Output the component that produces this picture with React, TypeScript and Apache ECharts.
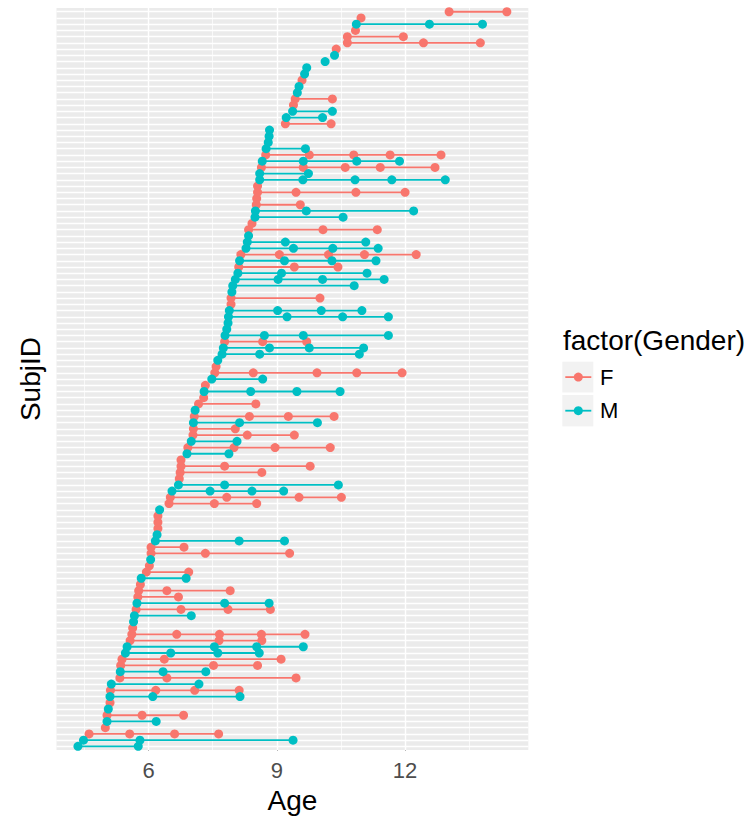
import React, { useEffect, useRef } from "react";
import * as echarts from "echarts";

// Subjects ordered from bottom to top (by age at first visit)
const genders: string[] = [
  "M","M","F","F","M","F","M","F","M","F",
  "M","F","M","F","F","M","M","F","F","F",
  "M","M","F","M","F","F","F","M","F","F",
  "M","F","F","M","M","F","F","F","M","F",
  "F","M","M","F","F","F","F","M","F","M",
  "F","F","M","F","M","F","F","M","F","M",
  "F","F","M","M","M","F","M","M","M","M",
  "M","F","F","M","M","M","M","F","M","F",
  "M","M","M","F","F","M","M","F","F","F",
  "F","M","M","F","M","F","M","M","M","M",
  "F","M","M","F","F","M","M","F","M","M",
  "M","M","F","F","F","F","M","F","F"
];

const visits: number[][] = [
  [4.35, 5.76],
  [4.48, 5.80, 9.38],
  [4.61, 5.56, 6.61, 7.64],
  [4.99],
  [5.03, 6.18],
  [5.03, 5.85, 6.82],
  [5.06],
  [5.10],
  [5.10, 6.10, 8.14],
  [5.11, 6.17, 7.08, 8.12],
  [5.13, 7.18],
  [5.33, 6.43, 9.45],
  [5.34, 6.34, 7.34],
  [5.35, 7.52, 8.55],
  [5.38, 6.37, 9.10],
  [5.46, 6.52, 7.62, 8.59],
  [5.50, 7.54, 8.53, 9.62],
  [5.57, 7.65, 8.65],
  [5.61, 6.66, 7.66, 8.64, 9.66],
  [5.63],
  [5.65],
  [5.67, 7.00],
  [5.71, 6.76, 7.86, 8.85],
  [5.73, 7.78, 8.82],
  [5.75, 6.70],
  [5.77, 6.43, 7.91],
  [5.81],
  [5.83, 6.88],
  [5.95, 6.94],
  [6.02],
  [6.05],
  [6.06, 7.33, 9.30],
  [6.06, 6.83],
  [6.16, 8.12, 9.18],
  [6.20],
  [6.22],
  [6.22],
  [6.22],
  [6.26],
  [6.48, 7.54, 8.53],
  [6.51, 7.83, 9.52, 10.51],
  [6.55, 7.44, 8.42, 9.16],
  [6.70, 7.78, 10.44],
  [6.72],
  [6.74, 8.65],
  [6.76, 7.78, 9.78],
  [6.76],
  [6.90, 7.88],
  [6.92, 8.00, 8.96, 10.25],
  [7.00, 8.07],
  [7.04, 8.31, 9.41],
  [7.05, 8.03],
  [7.05, 8.13, 9.95],
  [7.07, 8.36, 9.27, 10.34],
  [7.09],
  [7.17, 8.51],
  [7.29],
  [7.30, 8.39, 9.47, 10.48],
  [7.33],
  [7.48, 8.67],
  [7.55, 8.45, 9.94, 10.87, 11.93],
  [7.58],
  [7.62],
  [7.72, 8.60, 10.93],
  [7.75, 8.83, 9.76, 11.03],
  [7.78, 8.67, 9.70],
  [7.79, 8.71, 9.62, 11.61],
  [7.83],
  [7.86],
  [7.87, 9.24, 10.54, 11.61],
  [7.89, 9.02, 10.04, 10.99],
  [7.93],
  [7.93, 10.01],
  [7.95],
  [7.97, 10.81],
  [8.03, 9.03, 10.07, 11.51],
  [8.09, 9.11, 11.11],
  [8.11, 9.41, 10.43],
  [8.13, 9.18, 10.29, 11.32],
  [8.16, 9.06, 10.21, 11.05, 12.26],
  [8.28, 9.39, 10.31, 11.37],
  [8.31, 9.20, 11.08],
  [8.34],
  [8.34, 10.08, 11.35],
  [8.42],
  [8.49, 10.55],
  [8.50, 9.69, 12.20],
  [8.52, 9.55],
  [8.53],
  [8.55, 9.45, 10.85, 12.00],
  [8.55],
  [8.60, 9.61, 10.83, 11.69, 12.94],
  [8.60, 9.74],
  [8.64, 9.62, 10.60, 11.42, 12.70],
  [8.66, 9.62, 10.87, 11.87],
  [8.74, 9.76, 10.80, 11.65, 12.84],
  [8.75, 9.67],
  [8.80],
  [8.82],
  [8.83],
  [9.20, 10.27],
  [9.22, 10.07],
  [9.37, 10.30],
  [9.39],
  [9.43, 10.30],
  [9.48],
  [9.52],
  [9.59],
  [9.65],
  [9.70],
  [10.13],
  [10.35],
  [10.39],
  [10.65, 12.43, 13.76],
  [10.65, 11.96],
  [10.84],
  [10.86, 12.57, 13.81],
  [10.97],
  [13.03, 14.38]
];

const subjIds: string[] = visits.map((_, i) => "S" + String(i + 1).padStart(3, "0"));
const xMajorTicks: number[] = [6, 9, 12];
const xMinorTicks: number[] = [4.5, 7.5, 10.5, 13.5];
const genderLevels: string[] = ["F", "M"];
const genderColors: Record<string, string> = { F: "#F8766D", M: "#00BFC4" };
const legendTitle = "factor(Gender)";
const xTitle = "Age";
const yTitle = "SubjID";

export default function App() {
  const ref = useRef<HTMLDivElement>(null);

  useEffect(() => {
    if (!ref.current) return;
    const chart = echarts.init(ref.current, null, { renderer: "svg" });
    const font = "'Liberation Sans', Arial, Helvetica, sans-serif";
    const n = visits.length;
    const all = visits.flat();
    const lo = Math.min(...all);
    const hi = Math.max(...all);
    const pad = (hi - lo) * 0.05;

    const gridLines: any[] = [
      ...xMinorTicks.map((v) => ({ xAxis: v, lineStyle: { width: 0.7, color: "#FFFFFF", type: "solid" } })),
      ...xMajorTicks.map((v) => ({ xAxis: v, lineStyle: { width: 1.4, color: "#FFFFFF", type: "solid" } })),
      ...subjIds.map((_, i) => ({ yAxis: i, lineStyle: { width: 1.3, color: "#FFFFFF", type: "solid" } })),
    ];

    const gridSeries = {
      type: "line",
      name: "grid",
      data: [],
      silent: true,
      z: 1,
      markLine: {
        silent: true,
        z: 1,
        symbol: ["none", "none"],
        label: { show: false },
        emphasis: { disabled: true },
        animation: false,
        data: gridLines,
      },
    };

    const lineSeries = visits.map((ages, i) => ({
      type: "line",
      name: subjIds[i],
      data: ages.map((a) => [a, i]),
      symbol: "none",
      showSymbol: false,
      silent: true,
      z: 5,
      lineStyle: { color: genderColors[genders[i]], width: 1.8 },
      itemStyle: { color: genderColors[genders[i]] },
      emphasis: { disabled: true },
    }));

    const pointSeries = genderLevels.map((g) => ({
      type: "scatter",
      name: g,
      symbol: "circle",
      symbolSize: 9,
      silent: true,
      z: 6,
      itemStyle: { color: genderColors[g], opacity: 1 },
      emphasis: { disabled: true },
      data: visits.flatMap((ages, i) => (genders[i] === g ? ages.map((a) => [a, i]) : [])),
    }));

    const keyX = 562.3;
    const keyW = 31;
    const keys = [
      { g: "F", y: 361.7, h: 30.8, cy: 377.1 },
      { g: "M", y: 395.0, h: 31.4, cy: 410.7 },
    ];
    const legendGraphics: any[] = [
      {
        type: "text",
        left: 563,
        top: 326,
        style: { text: legendTitle, font: `28px ${font}`, fill: "#000000" },
      },
    ];
    keys.forEach((k) => {
      legendGraphics.push({
        type: "rect",
        shape: { x: keyX, y: k.y, width: keyW, height: k.h },
        style: { fill: "#F2F2F2", stroke: "none" },
      });
      legendGraphics.push({
        type: "line",
        shape: { x1: keyX + 3, y1: k.cy, x2: keyX + keyW - 2, y2: k.cy },
        style: { stroke: genderColors[k.g], lineWidth: 1.8 },
      });
      legendGraphics.push({
        type: "circle",
        shape: { cx: keyX + 16, cy: k.cy, r: 4.5 },
        style: { fill: genderColors[k.g] },
      });
      legendGraphics.push({
        type: "text",
        x: 600,
        y: k.cy,
        style: { text: k.g, font: `22px ${font}`, fill: "#000000", verticalAlign: "middle", align: "left" },
      });
    });

    chart.setOption({
      animation: false,
      textStyle: { fontFamily: font },
      grid: {
        left: 56.5,
        right: 754 - 528.3,
        top: 8,
        bottom: 819 - 750.6,
        show: true,
        backgroundColor: "#EBEBEB",
        borderWidth: 0,
      },
      xAxis: {
        type: "value",
        min: lo - pad,
        max: hi + pad,
        name: xTitle,
        nameLocation: "middle",
        nameGap: 35,
        nameTextStyle: { fontSize: 28, color: "#000000", fontFamily: font },
        axisLine: { show: false },
        splitLine: { show: false },
        axisTick: {
          show: true,
          customValues: xMajorTicks,
          length: 4,
          lineStyle: { color: "#333333", width: 1 },
        },
        axisLabel: {
          customValues: xMajorTicks,
          fontSize: 22,
          color: "#4D4D4D",
          margin: 9,
          fontFamily: font,
        },
      },
      yAxis: {
        type: "value",
        min: -0.6,
        max: n - 1 + 0.6,
        name: yTitle,
        nameLocation: "middle",
        nameGap: 12,
        nameRotate: 90,
        nameTextStyle: { fontSize: 28, color: "#000000", fontFamily: font },
        axisLine: { show: false },
        axisTick: { show: false },
        axisLabel: { show: false },
        splitLine: { show: false },
      },
      graphic: legendGraphics,
      series: [gridSeries, ...lineSeries, ...pointSeries],
    });

    return () => {
      chart.dispose();
    };
  }, []);

  return (
    <div
      ref={ref}
      style={{ position: "fixed", left: 0, top: 0, width: 754, height: 819, background: "#FFFFFF" }}
    />
  );
}
